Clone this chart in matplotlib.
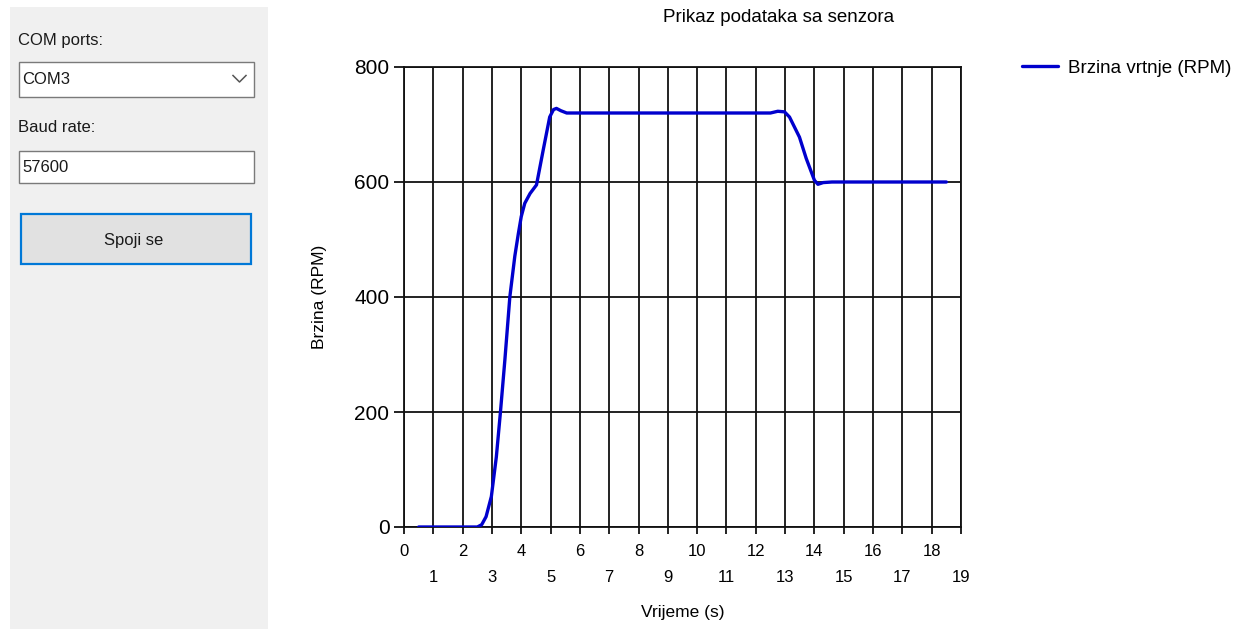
"""Recreate the sensor RPM chart window (COM panel + Prikaz podataka chart)."""

import matplotlib

matplotlib.use("Agg")

import matplotlib.pyplot as plt
from matplotlib.patches import Rectangle
from matplotlib.ticker import FixedLocator

plt.rcParams["font.family"] = ["Liberation Sans", "DejaVu Sans"]

# data
time_s = [0.5, 1.0, 1.5, 2.0, 2.5, 2.65, 2.8, 2.98, 3.15, 3.29, 3.44, 3.61, 3.78,
          3.9, 4.0, 4.12, 4.3, 4.52, 4.75, 4.97, 5.1, 5.2, 5.35, 5.55,
          6.0, 7.0, 8.0, 9.0, 10.0, 11.0, 12.0, 12.5, 12.75, 12.98, 13.15,
          13.49, 13.72, 14.0, 14.12, 14.3, 14.6, 15.0, 16.0, 17.0, 18.0, 18.5]
rpm = [0, 0, 0, 0, 0, 4, 18, 53, 122, 200, 290, 400, 471,
       510, 540, 563, 580, 595, 656, 713, 726, 728, 724, 720,
       720, 720, 720, 720, 720, 720, 720, 720, 723, 722, 713,
       678, 641, 603, 596, 599, 600, 600, 600, 600, 600, 600]

y_ticks = [0, 200, 400, 600, 800]
x_even = list(range(0, 20, 2))
x_odd = list(range(1, 20, 2))

series_label = "Brzina vrtnje (RPM)"
title = "Prikaz podataka sa senzora"
x_label = "Vrijeme (s)"
y_label = "Brzina (RPM)"
com_port = "COM3"
baud_rate = "57600"

W, H = 1240, 629
fig = plt.figure(figsize=(W / 100, H / 100), dpi=100)
fig.patch.set_facecolor("white")

# ---- left control panel drawn in pixel coordinates ----
ui = fig.add_axes([0, 0, 1, 1], zorder=0)
ui.set_xlim(0, W)
ui.set_ylim(H, 0)
ui.axis("off")

ui.add_patch(Rectangle((10, 7), 258, H - 7, facecolor="#F0F0F0", edgecolor="none"))

ui_font = 12
ui.text(18, 40, "COM ports:", fontsize=ui_font, va="center", ha="left", color="#1a1a1a")
ui.add_patch(Rectangle((18.5, 61.5), 235.5, 35, facecolor="white", edgecolor="#7A7A7A", lw=1))
ui.text(22, 79, com_port, fontsize=ui_font, va="center", ha="left", color="#1a1a1a")
ui.plot([233, 239.5, 246], [75.5, 82, 75.5], color="#555555", lw=1.1)

ui.text(18, 127, "Baud rate:", fontsize=ui_font, va="center", ha="left", color="#1a1a1a")
ui.add_patch(Rectangle((18.5, 150.5), 235.5, 32.5, facecolor="white", edgecolor="#7A7A7A", lw=1))
ui.text(22, 167, baud_rate, fontsize=ui_font, va="center", ha="left", color="#1a1a1a")

ui.add_patch(Rectangle((21, 214), 230, 50, facecolor="#E1E1E1", edgecolor="#0078D7", lw=1.6))
ui.text(134, 240, "Spoji se", fontsize=ui_font, va="center", ha="center", color="#1a1a1a")

# ---- chart ----
left, right, top, bottom = 404, 961, 67, 527
ax = fig.add_axes([left / W, 1 - bottom / H, (right - left) / W, (bottom - top) / H], zorder=1)
ax.set_facecolor("white")

line, = ax.plot(time_s, rpm, color="#0000CD", lw=2.4, label=series_label, zorder=3,
                solid_joinstyle="round", solid_capstyle="round")

ax.set_xlim(0, 19)
ax.set_ylim(0, 800)
ax.set_yticks(y_ticks)
ax.xaxis.set_major_locator(FixedLocator(x_even))
ax.xaxis.set_minor_locator(FixedLocator(x_odd))
ax.set_xticklabels([str(v) for v in x_even])
ax.set_xticklabels([str(v) for v in x_odd], minor=True)

ax.grid(which="both", axis="x", color="#111111", lw=1.3)
ax.grid(which="major", axis="y", color="#111111", lw=1.3)
for sp in ax.spines.values():
    sp.set_color("#111111")
    sp.set_linewidth(1.3)

ax.tick_params(axis="y", length=7.5, width=1.3, pad=3, labelsize=15, color="#111111")
ax.tick_params(axis="x", which="major", length=5, width=1.3, pad=7, labelsize=12, color="#111111")
ax.tick_params(axis="x", which="minor", length=5, width=1.3, pad=26, labelsize=12, color="#111111")

ax.set_xlabel(x_label, fontsize=12.5, labelpad=14)
ax.set_ylabel(y_label, fontsize=12.5, labelpad=20)

fig.text(779 / W, 1 - 18 / H, title, fontsize=13.5, ha="center", va="center")

fig.legend(handles=[line], loc="center left", bbox_to_anchor=(1022 / W, 1 - 68 / H),
           frameon=False, fontsize=13.5, handlelength=1.9, handletextpad=0.55,
           borderpad=0, borderaxespad=0)

fig.savefig("out.png", dpi=100)
